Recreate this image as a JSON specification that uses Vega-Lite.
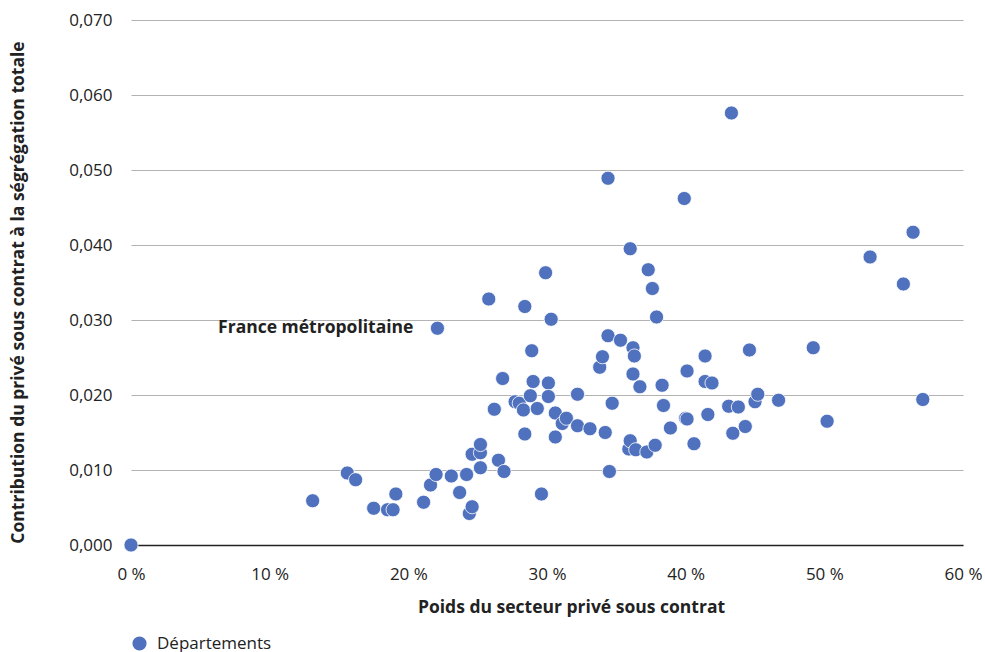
{
  "$schema": "https://vega.github.io/schema/vega-lite/v6.json",
  "width": 832,
  "height": 525,
  "autosize": "none",
  "padding": {"left": 131, "top": 20, "right": 22, "bottom": 107},
  "background": "white",
  "config": {
    "font": "Open Sans",
    "view": {"stroke": null},
    "axis": {"labelFont": "Open Sans", "titleFont": "Open Sans", "labelColor": "#222222", "titleColor": "#222222"}
  },
  "data": {
    "values": [
      {"x": 0, "y": 0.0},
      {"x": 13.1, "y": 0.0059},
      {"x": 15.6, "y": 0.0096},
      {"x": 16.2, "y": 0.0087},
      {"x": 17.5, "y": 0.0049},
      {"x": 18.5, "y": 0.0047},
      {"x": 18.9, "y": 0.0047},
      {"x": 19.1, "y": 0.0068},
      {"x": 21.1, "y": 0.0057},
      {"x": 21.6, "y": 0.0080},
      {"x": 22.0, "y": 0.0094},
      {"x": 22.1, "y": 0.0289, "label": "France métropolitaine"},
      {"x": 23.1, "y": 0.0092},
      {"x": 23.7, "y": 0.0070},
      {"x": 24.2, "y": 0.0094},
      {"x": 24.4, "y": 0.0042},
      {"x": 24.6, "y": 0.0051},
      {"x": 24.6, "y": 0.0121},
      {"x": 25.2, "y": 0.0123},
      {"x": 25.2, "y": 0.0134},
      {"x": 25.2, "y": 0.0103},
      {"x": 25.8, "y": 0.0328},
      {"x": 26.2, "y": 0.0181},
      {"x": 26.5, "y": 0.0113},
      {"x": 26.8, "y": 0.0222},
      {"x": 26.9, "y": 0.0098},
      {"x": 27.7, "y": 0.0191},
      {"x": 28.0, "y": 0.0189},
      {"x": 28.3, "y": 0.0180},
      {"x": 28.4, "y": 0.0148},
      {"x": 28.4, "y": 0.0318},
      {"x": 28.9, "y": 0.0259},
      {"x": 28.8, "y": 0.0199},
      {"x": 29.0, "y": 0.0218},
      {"x": 29.3, "y": 0.0182},
      {"x": 29.6, "y": 0.0068},
      {"x": 29.9, "y": 0.0363},
      {"x": 30.1, "y": 0.0216},
      {"x": 30.1, "y": 0.0198},
      {"x": 30.3, "y": 0.0301},
      {"x": 30.6, "y": 0.0176},
      {"x": 30.6, "y": 0.0144},
      {"x": 31.1, "y": 0.0162},
      {"x": 31.4, "y": 0.0169},
      {"x": 32.2, "y": 0.0201},
      {"x": 32.2, "y": 0.0159},
      {"x": 33.1, "y": 0.0155},
      {"x": 33.8, "y": 0.0237},
      {"x": 34.0, "y": 0.0251},
      {"x": 34.2, "y": 0.0150},
      {"x": 34.4, "y": 0.0279},
      {"x": 34.4, "y": 0.0489},
      {"x": 34.5, "y": 0.0098},
      {"x": 34.7, "y": 0.0189},
      {"x": 35.3, "y": 0.0273},
      {"x": 35.9, "y": 0.0128},
      {"x": 36.0, "y": 0.0139},
      {"x": 36.0, "y": 0.0395},
      {"x": 36.2, "y": 0.0263},
      {"x": 36.3, "y": 0.0252},
      {"x": 36.2, "y": 0.0228},
      {"x": 36.4, "y": 0.0127},
      {"x": 36.7, "y": 0.0211},
      {"x": 37.2, "y": 0.0124},
      {"x": 37.3, "y": 0.0367},
      {"x": 37.6, "y": 0.0342},
      {"x": 37.8, "y": 0.0133},
      {"x": 37.9, "y": 0.0304},
      {"x": 38.3, "y": 0.0213},
      {"x": 38.4, "y": 0.0186},
      {"x": 38.9, "y": 0.0156},
      {"x": 39.9, "y": 0.0462},
      {"x": 40.0, "y": 0.0169},
      {"x": 40.1, "y": 0.0168},
      {"x": 40.1, "y": 0.0232},
      {"x": 40.6, "y": 0.0135},
      {"x": 41.4, "y": 0.0252},
      {"x": 41.4, "y": 0.0218},
      {"x": 41.6, "y": 0.0174},
      {"x": 41.9, "y": 0.0216},
      {"x": 43.1, "y": 0.0185},
      {"x": 43.3, "y": 0.0576},
      {"x": 43.4, "y": 0.0149},
      {"x": 43.8, "y": 0.0184},
      {"x": 44.3, "y": 0.0158},
      {"x": 44.6, "y": 0.0260},
      {"x": 45.0, "y": 0.0191},
      {"x": 45.2, "y": 0.0201},
      {"x": 46.7, "y": 0.0193},
      {"x": 49.2, "y": 0.0263},
      {"x": 50.2, "y": 0.0165},
      {"x": 53.3, "y": 0.0384},
      {"x": 55.7, "y": 0.0348},
      {"x": 56.4, "y": 0.0417},
      {"x": 57.1, "y": 0.0194}
    ]
  },
  "layer": [
    {
      "mark": {"type": "point", "shape": "circle", "filled": true, "size": 200, "opacity": 1, "stroke": "white", "strokeWidth": 0.8},
      "encoding": {
        "x": {
          "field": "x", "type": "quantitative",
          "scale": {"domain": [0, 60], "nice": false, "zero": true},
          "axis": {
            "title": "Poids du secteur privé sous contrat",
            "values": [0, 10, 20, 30, 40, 50, 60],
            "labelExpr": "datum.value + ' %'",
            "labelFlush": false, "labelOverlap": false,
            "grid": false, "ticks": false,
            "domain": true, "domainColor": "#222222", "domainWidth": 1.3,
            "labelFontSize": 17, "labelPadding": 21,
            "titleFontSize": 17.5, "titleFontWeight": "bold",
            "titleX": 440, "titleY": 62, "titleBaseline": "middle", "titleAlign": "center"
          }
        },
        "y": {
          "field": "y", "type": "quantitative",
          "scale": {"domain": [0, 0.07], "nice": false},
          "axis": {
            "title": "Contribution du privé sous contrat à la ségrégation totale",
            "values": [0, 0.01, 0.02, 0.03, 0.04, 0.05, 0.06, 0.07],
            "labelExpr": "replace(format(datum.value, '.3f'), '.', ',')",
            "grid": true, "gridColor": "#b3b3b3", "gridWidth": 1,
            "ticks": false, "domain": false,
            "labelFontSize": 17, "labelPadding": 19,
            "titleFontSize": 17.5, "titleFontWeight": "bold",
            "titleAngle": 270, "titleX": -113, "titleY": 272, "titleBaseline": "middle", "titleAlign": "center"
          }
        },
        "color": {
          "datum": "Départements",
          "scale": {"range": ["#4f71be"]},
          "legend": {
            "title": null, "orient": "none", "legendX": 0, "legendY": 615,
            "labelFontSize": 17, "labelFont": "Open Sans", "labelColor": "#222222",
            "symbolType": "circle", "symbolSize": 200, "symbolStrokeWidth": 0, "labelOffset": 9
          }
        }
      }
    },
    {
      "transform": [{"filter": "datum.label != null"}],
      "mark": {"type": "text", "align": "right", "baseline": "middle", "dx": -24, "fontSize": 17.5, "fontWeight": "bold", "font": "Open Sans", "color": "#222222"},
      "encoding": {
        "x": {"field": "x", "type": "quantitative"},
        "y": {"field": "y", "type": "quantitative"},
        "text": {"field": "label"}
      }
    }
  ]
}
